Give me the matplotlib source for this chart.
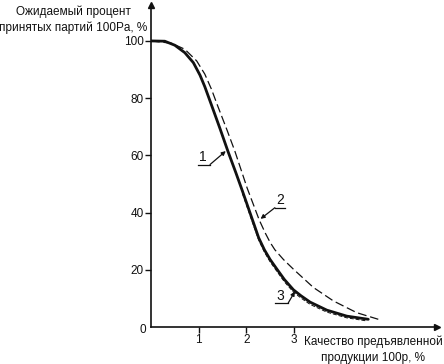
import matplotlib
matplotlib.use("Agg")
import matplotlib.pyplot as plt

plt.rcParams['font.family'] = ['Liberation Sans', 'DejaVu Sans']

# Curve 1 (thick solid)
x1 = [0, 0.29, 0.50, 0.71, 0.89, 1.03, 1.13, 1.27, 1.45, 1.62, 1.78, 1.92, 2.15,
      2.26, 2.38, 2.50, 2.64, 2.80, 2.99, 3.15, 3.34, 3.69, 4.11, 4.56]
y1 = [100, 99.9, 98.5, 95.9, 92.4, 88.0, 84.0, 77.6, 69.3, 61.2, 54.0, 47.5, 36.5,
      31.2, 27.0, 23.6, 20.3, 16.6, 13.0, 10.9, 8.7, 5.9, 3.8, 2.7]
# Curve 2 (dashed)
x2 = [0, 0.43, 0.71, 0.96, 1.13, 1.27, 1.40, 1.59, 1.76, 2.02, 2.27, 2.40, 2.50,
      2.60, 2.78, 2.99, 3.41, 3.83, 4.32, 4.77]
y2 = [100, 99.2, 97.1, 93.0, 88.4, 83.1, 77.3, 69.1, 61.5, 48.5, 37.5, 32.8, 29.6,
      27.0, 23.6, 20.2, 13.8, 9.1, 5.0, 2.7]
# Curve 3 (thin dashed, close to curve 1)
x3 = [1.92, 2.15, 2.26, 2.38, 2.50, 2.64, 2.80, 2.99, 3.15, 3.34, 3.69, 4.11, 4.50]
y3 = [46.6, 35.6, 30.4, 26.2, 22.8, 19.5, 15.8, 12.2, 10.1, 7.9, 5.2, 3.2, 2.2]

xticks = [1, 2, 3]
yticks = [20, 40, 60, 80, 100]
ylabel = "Ожидаемый процент\nпринятых партий 100Pa, %"
xlabel = "Качество предъявленной\nпродукции 100p, %"

ink = '#111111'
fig = plt.figure(figsize=(4.44, 3.64), dpi=100)
ax = fig.add_axes([0.340, 0.1016, 0.644, 0.885])
ax.set_xlim(0, 6.0)
ax.set_ylim(0, 112.6)
for s in ['top', 'right']:
    ax.spines[s].set_visible(False)
for s in ['left', 'bottom']:
    ax.spines[s].set_linewidth(1.2)
    ax.spines[s].set_color(ink)

ax.plot(x1, y1, color=ink, lw=2.0, solid_capstyle='round', solid_joinstyle='round')
ax.plot(x2, y2, color=ink, lw=0.9, dashes=(7, 3))
ax.plot(x3, y3, color=ink, lw=0.7, dashes=(4, 2))

ax.set_xticks(xticks)
ax.set_xticklabels([str(v) for v in xticks])
ax.set_yticks(yticks)
ax.set_yticklabels([str(v) for v in yticks])
ax.tick_params(axis='both', direction='out', length=4, width=1.0, color=ink,
               labelsize=8.5, labelcolor=ink, pad=1)

# arrows on axes
ax.plot(1, 0, '>', color=ink, ms=5, transform=ax.transAxes, clip_on=False)
ax.plot(0, 1, '^', color=ink, ms=5, transform=ax.transAxes, clip_on=False)

# origin label
ax.text(-0.17, -1.2, "0", ha='center', va='center', fontsize=8.5, color=ink,
        clip_on=False)

# axis titles
fig.text(73 / 444, 1 - 5 / 364, ylabel, ha='center', va='top', fontsize=8.5,
         color=ink, linespacing=1.45)
fig.text(373 / 444, 1 - 335 / 364, xlabel, ha='center', va='top', fontsize=8.5,
         color=ink, linespacing=1.5)

# curve labels with leaders
def tag(label, tx, ty, ul0, ul1, uly, px, py):
    ax.text(tx, ty, label, ha='center', va='bottom', fontsize=10, color=ink)
    ax.plot([ul0, ul1], [uly, uly], color=ink, lw=0.9)
    end = ul1 if px > ul1 else ul0
    ax.annotate('', xy=(px, py), xytext=(end, uly),
                arrowprops=dict(arrowstyle='-|>', color=ink, lw=0.9,
                                mutation_scale=6, shrinkA=0, shrinkB=0))

tag("1", 1.08, 57.0, 0.98, 1.24, 56.8, 1.57, 61.5)
tag("2", 2.72, 42.0, 2.60, 2.82, 41.7, 2.30, 37.8)
tag("3", 2.72, 8.5, 2.60, 2.88, 8.4, 3.02, 12.4)

fig.savefig("out.png", dpi=100, facecolor='white')
